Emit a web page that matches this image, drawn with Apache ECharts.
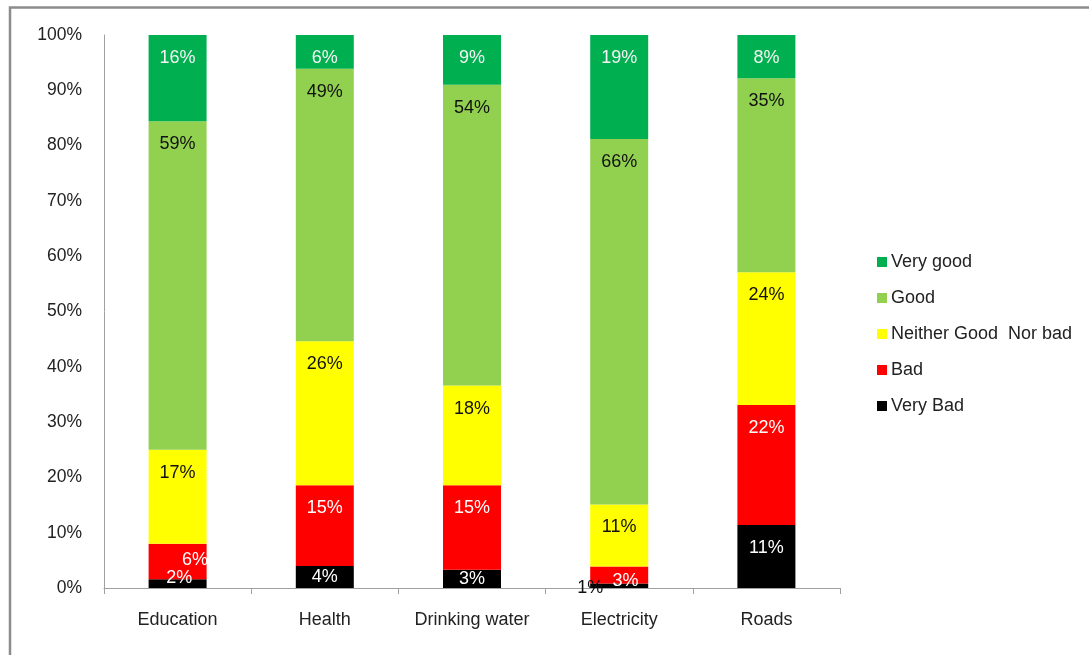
<!DOCTYPE html>
<html>
<head>
<meta charset="utf-8">
<script src="https://cdn.jsdelivr.net/npm/echarts@6/dist/echarts.min.js"></script>
<style>html,body{margin:0;padding:0;background:#fff;}#c{width:1089px;height:655px;}</style>
</head>
<body>
<div id="c"></div>
<script>
const categories = ['Education', 'Health', 'Drinking water', 'Electricity', 'Roads'];
const veryBad = [1.6, 4.0, 3.3, 0.8, 11.4];
const bad = [6.4, 14.6, 15.3, 3.1, 21.7];
const neither = [17.0, 26.0, 18.0, 11.2, 24.0];
const good = [59.4, 49.3, 54.4, 66.1, 35.1];
const veryGood = [15.6, 6.1, 9.0, 18.8, 7.8];
const yTicks = ['0%', '10%', '20%', '30%', '40%', '50%', '60%', '70%', '80%', '90%', '100%'];

const FONT = '"Liberation Sans", Arial, sans-serif';
const fmt = p => Math.round(p.value) + '%';

// label placement tweaks for short segments (style only)
const labelTweaks = {
  'Bad|0': { position: ['80%', 16], align: 'center', verticalAlign: 'middle' },
  'Very Bad|0': { position: ['53%', -1], align: 'center', verticalAlign: 'middle' },
  'Very Bad|1': { position: ['50%', 11], align: 'center', verticalAlign: 'middle' },
  'Very Bad|2': { position: ['50%', 9], align: 'center', verticalAlign: 'middle' },
  'Very Bad|3': { position: ['0%', 4], align: 'center', verticalAlign: 'middle', color: '#111' },
  'Bad|3': { position: ['61%', 15], align: 'center', verticalAlign: 'middle' }
};

function mkSeries(name, values, color, labelColor) {
  return {
    name: name,
    type: 'bar',
    stack: 'total',
    barWidth: 58,
    itemStyle: { color: color },
    label: {
      show: true,
      position: 'insideTop',
      distance: 14,
      formatter: fmt,
      color: labelColor,
      fontFamily: FONT,
      fontSize: 18
    },
    data: values.map((v, i) => {
      const t = labelTweaks[name + '|' + i];
      return t ? { value: v, label: t } : v;
    })
  };
}

const chart = echarts.init(document.getElementById('c'), null, { renderer: 'canvas' });
chart.setOption({
  animation: false,
  backgroundColor: '#fff',
  textStyle: { fontFamily: FONT },
  graphic: [{
    type: 'rect',
    shape: { x: 10, y: 7.5, width: 1200, height: 800 },
    style: { fill: 'none', stroke: '#8c8c8c', lineWidth: 2.5 },
    silent: true
  }],
  grid: { left: 104, right: 249, top: 35, bottom: 67, containLabel: false },
  legend: {
    orient: 'vertical',
    left: 877,
    top: 253,
    padding: 0,
    itemWidth: 10,
    itemHeight: 10,
    itemGap: 18,
    icon: 'rect',
    data: ['Very good', 'Good', 'Neither Good  Nor bad', 'Bad', 'Very Bad'],
    textStyle: { fontFamily: FONT, fontSize: 18, color: '#222', lineHeight: 18, padding: [0, 0, 0, -1] }
  },
  xAxis: {
    type: 'category',
    data: categories,
    axisLine: { lineStyle: { color: '#a0a0a0', width: 1 } },
    axisTick: { show: true, interval: 0, length: 6, lineStyle: { color: '#a0a0a0' } },
    axisLabel: { interval: 0, hideOverlap: false, margin: 23, fontFamily: FONT, fontSize: 18, color: '#222' },
    splitLine: { show: false }
  },
  yAxis: {
    type: 'value',
    min: 0,
    max: 100,
    interval: 10,
    axisLine: { show: true, lineStyle: { color: '#a0a0a0', width: 1 } },
    axisTick: { show: false },
    splitLine: { show: false },
    axisLabel: {
      margin: 22,
      fontFamily: FONT,
      fontSize: 17.5,
      color: '#222',
      formatter: v => yTicks[Math.round(v / 10)]
    }
  },
  series: [
    mkSeries('Very Bad', veryBad, '#000000', '#ffffff'),
    mkSeries('Bad', bad, '#ff0000', '#ffffff'),
    mkSeries('Neither Good  Nor bad', neither, '#ffff00', '#111111'),
    mkSeries('Good', good, '#92d050', '#111111'),
    mkSeries('Very good', veryGood, '#00b050', '#f4f4f4')
  ]
});
</script>
</body>
</html>
